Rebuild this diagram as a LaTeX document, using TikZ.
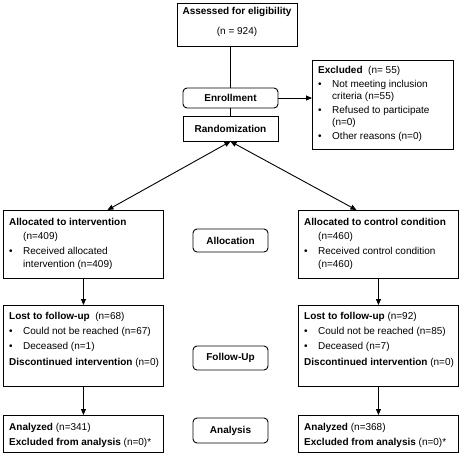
\documentclass[tikz,border=0pt]{standalone}
\usepackage{fontspec}
\setmainfont{Liberation Sans}
\usetikzlibrary{arrows.meta,calc}
\newcommand{\fs}{\fontsize{10}{12}\selectfont}
\newcommand{\bul}{\makebox[14pt][l]{•}}
\newcommand{\ind}{\hspace*{14pt}}
\tikzset{
  box/.style={draw, line width=0.9pt, anchor=north west, inner sep=0pt},
  rbox/.style={draw, line width=0.9pt, rounded corners=4pt, inner sep=0pt, anchor=center, font=\fs\bfseries},
  sbox/.style={draw, line width=0.9pt, inner sep=0pt, anchor=center, font=\fs\bfseries},
  txt/.style={anchor=north west, inner sep=0pt, align=left, font=\fs},
  conn/.style={line width=0.9pt},
  arr/.style={line width=0.9pt, -{Triangle[length=6pt,width=5pt]}},
  dbl/.style={line width=0.9pt, {Triangle[length=6pt,width=5pt]}-{Triangle[length=6pt,width=5pt]}},
}
\begin{document}
\begin{tikzpicture}[x=1pt,y=-1pt]
\useasboundingbox (0,0) rectangle (460,459);
% top
\node[box, minimum width=120pt, minimum height=43pt] (assess) at (177,3) {};
\node[anchor=north, inner sep=0pt, align=center, font=\fs] (assesst) at (237,7.2)
  {\textbf{Assessed for eligibility}\\[8pt](n = 924)};
\node[rbox, minimum width=95pt, minimum height=20pt] (enroll) at (230.5,98) {Enrollment};
\node[sbox, minimum width=95pt, minimum height=25pt] (rand) at (230.5,128.5) {Randomization};
\node[box, minimum width=141pt, minimum height=89pt] (excl) at (312,60) {};
\node[txt] (exclt) at (318,66.2)
  {\textbf{Excluded}\ \ (n= 55)\\[2pt]
   \bul Not meeting inclusion\\
   \ind criteria (n=55)\\[2pt]
   \bul Refused to participate\\
   \ind (n=0)\\[2pt]
   \bul Other reasons (n=0)};
% stage labels
\node[rbox, minimum width=75pt, minimum height=23pt] (lalloc) at (230.5,240.5) {Allocation};
\node[rbox, minimum width=75pt, minimum height=24pt] (lfollow) at (230.5,358) {Follow-Up};
\node[rbox, minimum width=75pt, minimum height=25pt] (lanal) at (230.5,430.5) {Analysis};
% left column
\node[box, minimum width=160pt, minimum height=68pt] (allocL) at (3,210) {};
\node[txt] (allocLt) at (9,218.2)
  {\textbf{Allocated to intervention}\\[2pt]
   \ind(n=409)\\[3pt]
   \bul Received allocated\\[1pt]
   \ind intervention (n=409)};
\node[box, minimum width=160pt, minimum height=81pt] (lostL) at (3,305) {};
\node[txt] (lostLt) at (9,312.2)
  {\textbf{Lost to follow-up}\ \ (n=68)\\[3pt]
   \bul Could not be reached (n=67)\\[3pt]
   \bul Deceased (n=1)\\[4pt]
   \textbf{Discontinued intervention} (n=0)};
\node[box, minimum width=160pt, minimum height=37pt] (analL) at (3,415) {};
\node[txt] (analLt) at (9,423.2)
  {\textbf{Analyzed} (n=341)\\[3pt]
   \textbf{Excluded from analysis} (n=0)*};
% right column
\node[box, minimum width=160pt, minimum height=68pt] (allocR) at (298,210) {};
\node[txt] (allocRt) at (304,218.2)
  {\textbf{Allocated to control condition}\\[2pt]
   \ind(n=460)\\[3pt]
   \bul Received control condition\\[1pt]
   \ind(n=460)};
\node[box, minimum width=160pt, minimum height=81pt] (lostR) at (298,305) {};
\node[txt] (lostRt) at (304,312.2)
  {\textbf{Lost to follow-up} (n=92)\\[3pt]
   \bul Could not be reached (n=85)\\[3pt]
   \bul Deceased (n=7)\\[4pt]
   \textbf{Discontinued intervention} (n=0)};
\node[box, minimum width=160pt, minimum height=37pt] (analR) at (298,415) {};
\node[txt] (analRt) at (304,423.2)
  {\textbf{Analyzed} (n=368)\\[3pt]
   \textbf{Excluded from analysis} (n=0)*};
% connectors
\draw[conn] (enroll.north |- assess.south) -- (enroll.north);
\draw[conn] (enroll.south) -- (rand.north);
\draw[arr] (enroll.east) -- (excl.west |- enroll.east);
\draw[dbl] (rand.south) -- ($(allocL.north)+(24,0)$);
\draw[dbl] (rand.south) -- ($(allocR.north)+(-22,0)$);
\draw[arr] (allocL.south) -- (lostL.north);
\draw[arr] (lostL.south) -- (analL.north);
\draw[arr] (allocR.south) -- (lostR.north);
\draw[arr] (lostR.south) -- (analR.north);
\end{tikzpicture}
\end{document}
